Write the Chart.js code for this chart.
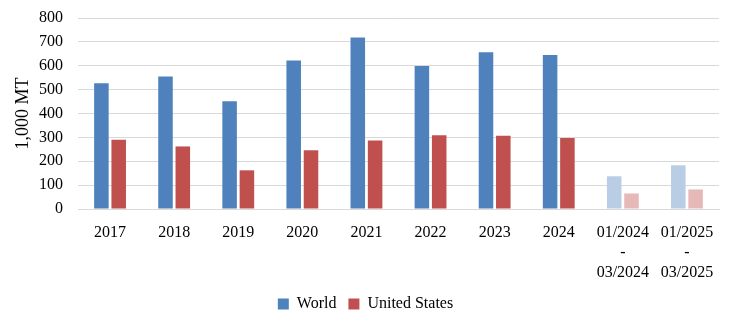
<!DOCTYPE html>
<html>
<head>
<meta charset="utf-8">
<script src="https://cdn.jsdelivr.net/npm/chart.js@4.4.1/dist/chart.umd.min.js"></script>
<style>
  html, body { margin: 0; padding: 0; background: #fff; }
  #wrap { width: 739px; height: 323px; }
</style>
</head>
<body>
<div id="wrap"><canvas id="chart"></canvas></div>
<script>
const categories = ['2017', '2018', '2019', '2020', '2021', '2022', '2023', '2024',
  ['01/2024', '-', '03/2024'], ['01/2025', '-', '03/2025']];
const worldValues = [527, 555, 451, 622, 718, 599, 657, 645, 137, 183];
const usValues = [290, 262, 162, 246, 287, 309, 307, 297, 65, 82];
const yTicks = [0, 100, 200, 300, 400, 500, 600, 700, 800];

const worldColors = worldValues.map((v, i) => i < 8 ? '#4F81BD' : '#B9CDE5');
const usColors = usValues.map((v, i) => i < 8 ? '#C0504D' : '#E6B9B8');

const serif = "'Liberation Serif', 'Times New Roman', serif";
Chart.defaults.font.family = serif;
Chart.defaults.font.size = 16;
Chart.defaults.color = '#000';

new Chart(document.getElementById('chart').getContext('2d'), {
  type: 'bar',
  data: {
    labels: categories,
    datasets: [
      {
        label: 'World',
        data: worldValues,
        backgroundColor: worldColors,
        categoryPercentage: 0.54,
        barPercentage: 0.84
      },
      {
        label: 'United States',
        data: usValues,
        backgroundColor: usColors,
        categoryPercentage: 0.54,
        barPercentage: 0.84
      }
    ]
  },
  options: {
    responsive: true,
    maintainAspectRatio: false,
    animation: false,
    layout: { padding: { top: 18, right: 20, bottom: 1, left: 12 } },
    scales: {
      x: {
        grid: { display: false },
        border: { color: '#D9D9D9', width: 1 },
        ticks: { font: { family: serif, size: 16, lineHeight: 1.25 }, maxRotation: 0, padding: 6 },
        afterFit: axis => { axis.height = 75; }
      },
      y: {
        min: 0,
        max: 800,
        afterBuildTicks: axis => { axis.ticks = yTicks.map(v => ({ value: v })); },
        grid: { color: '#D9D9D9', drawTicks: false },
        border: { display: false },
        ticks: { font: { family: serif, size: 16 }, padding: 15, autoSkip: false },
        title: { display: true, text: '1,000 MT', font: { family: serif, size: 18 }, padding: 0 },
        afterFit: axis => {
          axis.width = 66;
          axis.paddingTop = 10;
          axis.paddingBottom = 10;
        }
      }
    },
    plugins: {
      legend: {
        position: 'bottom',
        labels: {
          font: { family: serif, size: 16 },
          boxWidth: 11,
          boxHeight: 11,
          padding: 12,
          generateLabels: chart => chart.data.datasets.map((ds, i) => ({
            text: ds.label,
            fillStyle: i === 0 ? '#4F81BD' : '#C0504D',
            strokeStyle: 'transparent',
            lineWidth: 0,
            fontColor: '#000',
            datasetIndex: i
          }))
        }
      },
      tooltip: { enabled: false }
    }
  }
});
</script>
</body>
</html>
